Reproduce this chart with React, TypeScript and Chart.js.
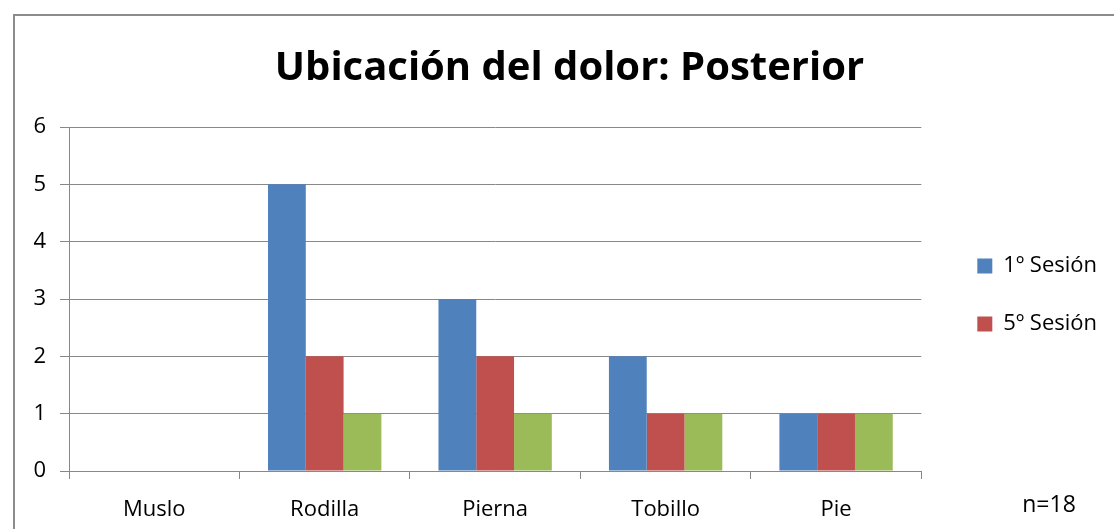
import React, { useEffect, useRef } from "react";
import { Chart, registerables } from "chart.js";

Chart.register(...registerables);

const categories = ["Muslo", "Rodilla", "Pierna", "Tobillo", "Pie"];
const sesion1 = [0, 5, 3, 2, 1];
const sesion5 = [0, 2, 2, 1, 1];
const sesionFinal = [0, 1, 1, 1, 1];
const seriesLabels = ["1º Sesión", "5º Sesión", ""];
const yTicks = [0, 1, 2, 3, 4, 5, 6];
const titleText = "Ubicación del dolor: Posterior";
const sampleNote = "n=18";

const FONT = "'Open Sans', 'Noto Sans', sans-serif";
const GRID = "#888888";

// Outer frame, sample-size note, and small nudges of the title and legend boxes
const framePlugin = {
  id: "frameAndNote",
  afterLayout(chart: any) {
    const lg = chart.legend;
    if (lg) {
      lg.left += 20;
      lg.right += 20;
      lg.top -= 4;
      lg.bottom -= 4;
    }
    const tb = chart.titleBlock;
    if (tb) {
      tb.left += 26;
      tb.right += 26;
    }
  },
  afterDraw(chart: Chart) {
    const ctx = chart.ctx;
    ctx.save();
    ctx.strokeStyle = "#8c8c8c";
    ctx.lineWidth = 2;
    ctx.beginPath();
    ctx.moveTo(14, chart.height + 10);
    ctx.lineTo(14, 15);
    ctx.lineTo(chart.width + 10, 15);
    ctx.stroke();
    ctx.fillStyle = "#000";
    ctx.font = `23px ${FONT}`;
    ctx.textAlign = "center";
    ctx.textBaseline = "alphabetic";
    ctx.fillText(sampleNote, 1049, 512);
    ctx.restore();
  },
};

export default function App() {
  const ref = useRef<HTMLCanvasElement>(null);

  useEffect(() => {
    if (!ref.current) return;
    const chart = new Chart(ref.current, {
      type: "bar",
      data: {
        labels: categories,
        datasets: [
          { label: seriesLabels[0], data: sesion1, backgroundColor: "#4F81BD" },
          { label: seriesLabels[1], data: sesion5, backgroundColor: "#C0504D" },
          { label: seriesLabels[2], data: sesionFinal, backgroundColor: "#9BBB59" },
        ],
      },
      options: {
        responsive: false,
        animation: false,
        layout: { padding: { left: 0, right: 27, top: 0, bottom: 0 } },
        datasets: {
          bar: { barPercentage: 1, categoryPercentage: 0.665, borderWidth: 0 },
        },
        plugins: {
          title: {
            display: true,
            text: titleText,
            color: "#000",
            font: { family: FONT, size: 40, weight: "bold" },
            padding: { top: 45, bottom: 34 },
          },
          legend: {
            position: "right",
            align: "center",
            fullSize: false,
            labels: {
              color: "#000",
              font: { family: FONT, size: 22 },
              boxWidth: 15,
              boxHeight: 15,
              padding: 36,
              filter: (item) => item.text !== "",
            },
          },
          tooltip: { enabled: false },
        },
        scales: {
          x: {
            offset: true,
            grid: {
              offset: true,
              drawOnChartArea: false,
              drawTicks: true,
              tickLength: 8,
              color: GRID,
            },
            border: { display: true, color: GRID },
            ticks: {
              color: "#000",
              font: { family: FONT, size: 22 },
              padding: 18,
            },
            afterFit(scale: any) {
              scale.height = 58;
            },
          },
          y: {
            min: 0,
            max: 6,
            afterBuildTicks(scale: any) {
              scale.ticks = yTicks.map((v) => ({ value: v }));
            },
            grid: { color: GRID, tickLength: 9 },
            border: { display: true, color: GRID },
            ticks: {
              color: "#000",
              font: { family: FONT, size: 22 },
              padding: 14,
            },
            afterFit(scale: any) {
              scale.width = 69;
            },
          },
        },
      },
      plugins: [framePlugin],
    });
    return () => chart.destroy();
  }, []);

  return (
    <div style={{ position: "fixed", left: 0, top: 0, width: 1114, height: 529, background: "#fff" }}>
      <canvas ref={ref} width={1114} height={529} style={{ display: "block" }} />
    </div>
  );
}
